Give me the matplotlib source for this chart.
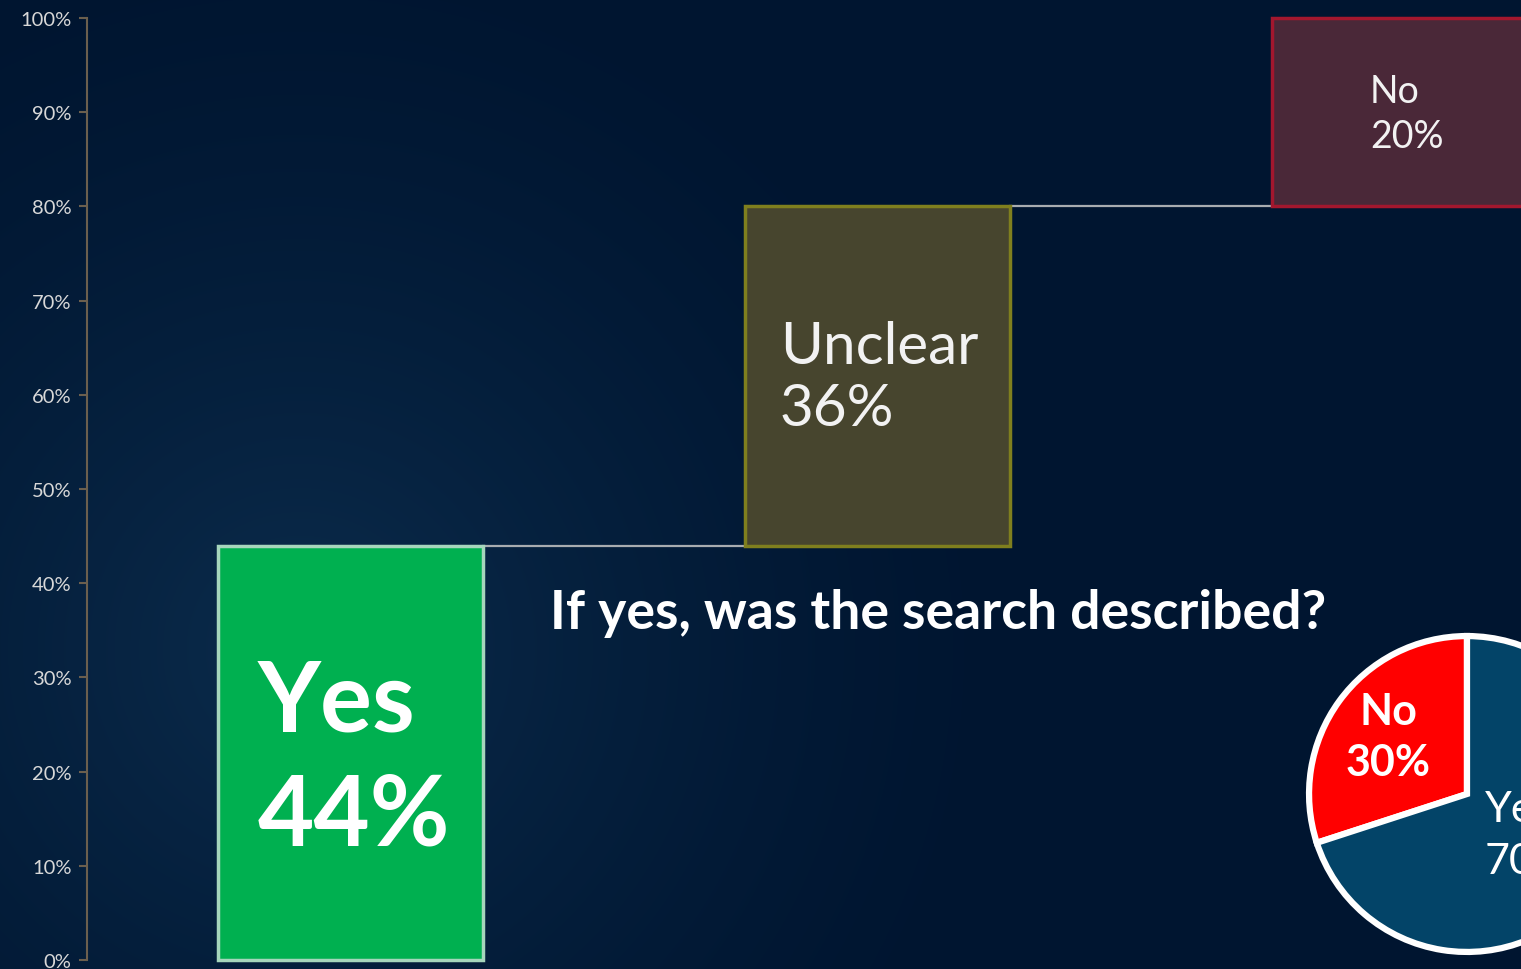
import numpy as np
import matplotlib
matplotlib.use("Agg")
import matplotlib.pyplot as plt
from matplotlib.colors import LinearSegmentedColormap

# ---- data ----
categories = ["Yes", "Unclear", "No"]
values = [44, 36, 20]
value_labels = ["44%", "36%", "20%"]
yticks = [0, 10, 20, 30, 40, 50, 60, 70, 80, 90, 100]
ytick_labels = [f"{v}%" for v in yticks]
pie_names = ["No", "Yes"]
pie_values = [30, 70]
pie_value_labels = ["30%", "70%"]
subtitle = "If yes, was the search described?"

W, H = 1521, 970
fig = plt.figure(figsize=(W / 100, H / 100), dpi=100)
fig.patch.set_facecolor("#001530")

# background radial glow
bg = fig.add_axes([0, 0, 1, 1])
yy, xx = np.mgrid[0:H, 0:W]
cx, cy = 300, 650
r = np.sqrt((xx - cx) ** 2 + (yy - cy) ** 2)
t = np.clip(1 - r / 750, 0, 1) ** 1.5
cmap = LinearSegmentedColormap.from_list("bg", ["#001530", "#0b2c4c"])
bg.imshow(t, cmap=cmap, aspect="auto", extent=[0, W, H, 0], vmin=0, vmax=1)
bg.axis("off")

# main waterfall axes
left = 87 / W
bottom = (H - 961) / H
height = (961 - 19) / H
ax = fig.add_axes([left, bottom, 1 - left, height])
ax.set_facecolor("none")

x = np.arange(len(categories))
starts = np.concatenate([[0], np.cumsum(values)[:-1]])
ends = np.cumsum(values)
faces = ["#00b050", "#47452e", "#4a2838"]
edges = ["#a6d6bc", "#7f7f1e", "#a3172e"]
width = 0.503
ax.bar(x, values, bottom=starts, width=width, color=faces, edgecolor=edges,
       linewidth=2.5, zorder=3, clip_on=False)

for i in range(len(categories) - 1):
    ax.plot([x[i] + width / 2, x[i + 1] - width / 2], [ends[i], ends[i]],
            color="#a8acb0", lw=1.6, zorder=2)

ax.set_xlim(-0.5, 2.221)
ax.set_ylim(0, 100)
ax.set_yticks(yticks)
ax.set_yticklabels(ytick_labels)
ax.set_xticks([])
for s in ["top", "right", "bottom"]:
    ax.spines[s].set_visible(False)
ax.spines["left"].set_color("#6b5f4e")
ax.spines["left"].set_linewidth(1.5)
ax.tick_params(axis="y", colors="#6b5f4e", length=6, width=1.5, pad=5,
               labelcolor="#d8d8d8", labelsize=14.5)
for lab in ax.get_yticklabels():
    lab.set_fontfamily("Lato")

fam = ["Lato", "DejaVu Sans"]
ax.text(x[0] - 0.1755, 27.4, categories[0], color="white", fontsize=70,
        fontweight="bold", family=fam, ha="left", va="center", zorder=4)
ax.text(x[0] - 0.1755, 15.3, value_labels[0], color="white", fontsize=70,
        fontweight="bold", family=fam, ha="left", va="center", zorder=4)
ax.text(x[1] - 0.185, 65.1, categories[1], color="#f2f2f2", fontsize=42,
        family=fam, ha="left", va="center", zorder=4)
ax.text(x[1] - 0.185, 58.5, value_labels[1], color="#f2f2f2", fontsize=42,
        family=fam, ha="left", va="center", zorder=4)
ax.text(x[2] - 0.0655, 92.25, categories[2], color="#f2f2f2", fontsize=27,
        family=fam, ha="left", va="center", zorder=4)
ax.text(x[2] - 0.0655, 87.5, value_labels[2], color="#f2f2f2", fontsize=27,
        family=fam, ha="left", va="center", zorder=4)

# subtitle
fig.text(550 / W, 1 - 614 / H, subtitle, color="white", fontsize=38.5,
         fontweight="bold", family=fam, ha="left", va="center")

# pie
pc_x, pc_y, pr = 1467, 795, 162
pax = fig.add_axes([(pc_x - pr) / W, (H - pc_y - pr) / H, 2 * pr / W, 2 * pr / H])
pax.axis("off")
pax.pie(pie_values, colors=["#ff0000", "#034468"], startangle=90,
        counterclock=True, radius=0.975,
        wedgeprops=dict(edgecolor="white", linewidth=4.5))
pax.set_xlim(-1, 1)
pax.set_ylim(-1, 1)
pax.text(-0.488, 0.512, pie_names[0], color="white", fontsize=31,
         fontweight="bold", family=fam, ha="center", va="center")
pax.text(-0.488, 0.198, pie_value_labels[0], color="white", fontsize=31,
         fontweight="bold", family=fam, ha="center", va="center")
pax.text(0.111, -0.093, pie_names[1], color="white", fontsize=31,
         family=fam, ha="left", va="center")
pax.text(0.111, -0.414, pie_value_labels[1], color="white", fontsize=31,
         family=fam, ha="left", va="center")

fig.savefig("out.png", dpi=100, facecolor=fig.get_facecolor())
